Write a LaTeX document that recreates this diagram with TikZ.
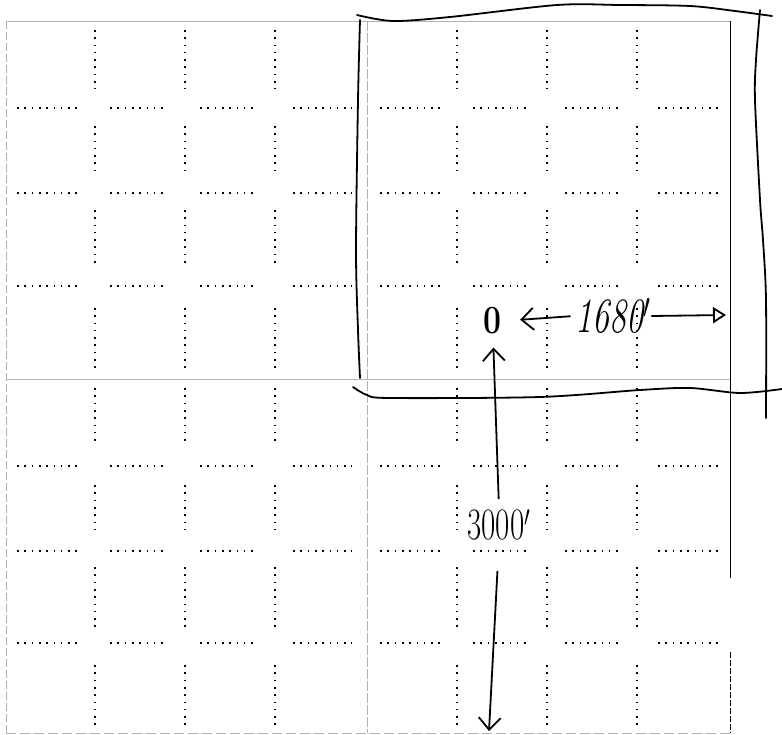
\documentclass[tikz,border=0pt]{standalone}
\usepackage{fontspec}
\usetikzlibrary{arrows.meta}
\begin{document}
\begin{tikzpicture}[x=1pt,y=-1pt,
    dots/.style={line width=1.8pt,dash pattern=on 1.6pt off 5.7pt},
    blockline/.style={gray!60,line width=0.7pt},
    hand/.style={line width=1.8pt,line cap=round,line join=round},
    barb/.style={hand,-{Straight Barb[length=12pt,width=22pt]}},
    lab/.style={inner sep=1pt}]
  \useasboundingbox (0,0) rectangle (782,735);
  % block boundaries
  \draw[blockline,dash pattern=on 8pt off 3pt] (6,21) -- (6,733);
  \draw[blockline,dash pattern=on 10pt off 2pt] (367,21) -- (367,733);
  \draw[blockline] (6,21) -- (731,21);
  \draw[blockline] (6,379) -- (731,379);
  \draw[blockline,dash pattern=on 10pt off 4pt] (6,733) -- (731,733);
  \draw[line width=0.8pt] (730,21) -- (730,578);
  \draw[line width=0.8pt,dash pattern=on 6pt off 2pt] (730,652) -- (730,733);

  % dotted grid
  \foreach \x in {95,185,275,457,547,637}
    \foreach \ya/\yb in {30/89,126/172,210/268,308/368,388/445,485/530,567/628,665/727}
      \draw[dots] (\x,\ya) -- (\x,\yb);
  \foreach \y in {108,193,286,466,551,643}
    \foreach \xa/\xb in {17/80,110/165,200/257,293/352,380/440,473/530,565/620,658/722}
      \draw[dots] (\xa,\y) -- (\xb,\y);

  % hand drawn outline
  \draw[hand] plot[smooth] coordinates {(357,15) (393,21) (450,17) (557,5) (620,5) (690,6) (735,11) (772,16)};
  \draw[hand] plot[smooth] coordinates {(360,20) (358,100) (356,250) (358,330) (360,378)};
  \draw[hand] plot[smooth] coordinates {(353,387) (367,395) (390,398) (540,397) (640,390) (690,388) (740,393) (782,389)};
  \draw[hand] plot[smooth] coordinates {(760,10) (756,60) (755,100) (760,200) (763,240) (766,300) (766,418)};

  % labels
  \node[lab,font=\fontsize{32}{32}\selectfont\bfseries] (zero) at (493,321) {\scalebox{1}[1.25]{0}};
  \node[lab,font=\fontsize{34}{34}\selectfont\itshape,anchor=west] (ewdist) at (574,316) {\scalebox{1}[1.45]{1680$'$}};
  \node[lab,font=\fontsize{31}{31}\selectfont] (nsdist) at (499,525) {\scalebox{1}[1.45]{3000$'$}};
  \coordinate (ewend) at (726,315);
  \coordinate (nsend) at (489,731);

  \draw[barb,shorten <=4pt,shorten >=17pt] (ewdist.west) -- (zero.east);
  \draw[hand,-{Triangle[open,length=13pt,width=16pt]}] (ewdist.east) -- (ewend);
  \draw[barb,shorten <=10pt,shorten >=12pt] (nsdist.north) -- (zero.south);
  \draw[barb,shorten <=30pt] (nsdist.south) -- (nsend);
\end{tikzpicture}
\end{document}
